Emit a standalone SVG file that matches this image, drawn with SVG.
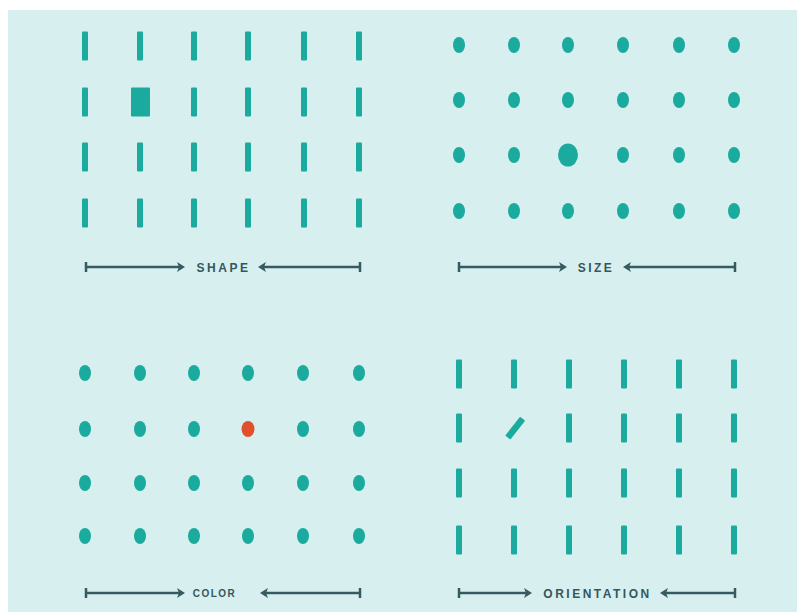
<svg xmlns="http://www.w3.org/2000/svg" width="797" height="612" viewBox="0 0 797 612">
<style>
.bg{fill:#d8eff0}
.bar{fill:#1aab9e}
.dot{fill:#1aab9e}
.red{fill:#e0512b}
.ax{stroke:#355b5f;stroke-width:2.5;fill:none}
.hd{fill:#355b5f}
.lbl{font-family:"Liberation Sans",Arial,sans-serif;font-weight:bold;font-size:12px;letter-spacing:2.5px;fill:#34575b;text-anchor:middle}
.sm{font-size:10px;letter-spacing:1.5px}
</style>
<defs>
<rect id="b" class="bar" x="-3" y="-14.5" width="6" height="29" rx="1"/>
<ellipse id="d" class="dot" cx="0" cy="0" rx="6" ry="8"/>
<path id="hr" class="hd" d="M-7,-5 L1,0 L-7,5 L-5,0 Z"/>
<path id="hl" class="hd" d="M7,-5 L-1,0 L7,5 L5,0 Z"/>
</defs>
<rect x="0" y="0" width="797" height="612" fill="#ffffff"/>
<rect class="bg" x="8" y="10" width="789" height="602"/>

<g id="shape">
<g id="shape-grid">
<use href="#b" x="85" y="46"/><use href="#b" x="140" y="46"/><use href="#b" x="194" y="46"/><use href="#b" x="248" y="46"/><use href="#b" x="304" y="46"/><use href="#b" x="359" y="46"/>
<use href="#b" x="85" y="102"/><rect class="bar" x="131" y="87.5" width="19" height="29" rx="1"/><use href="#b" x="194" y="102"/><use href="#b" x="248" y="102"/><use href="#b" x="304" y="102"/><use href="#b" x="359" y="102"/>
<use href="#b" x="85" y="157"/><use href="#b" x="140" y="157"/><use href="#b" x="194" y="157"/><use href="#b" x="248" y="157"/><use href="#b" x="304" y="157"/><use href="#b" x="359" y="157"/>
<use href="#b" x="85" y="213"/><use href="#b" x="140" y="213"/><use href="#b" x="194" y="213"/><use href="#b" x="248" y="213"/><use href="#b" x="304" y="213"/><use href="#b" x="359" y="213"/>
</g>
<text class="lbl" x="223.5" y="271.5">SHAPE</text>
</g>

<g id="size">
<g id="size-grid">
<use href="#d" x="459" y="45"/><use href="#d" x="514" y="45"/><use href="#d" x="568" y="45"/><use href="#d" x="623" y="45"/><use href="#d" x="679" y="45"/><use href="#d" x="734" y="45"/>
<use href="#d" x="459" y="100"/><use href="#d" x="514" y="100"/><use href="#d" x="568" y="100"/><use href="#d" x="623" y="100"/><use href="#d" x="679" y="100"/><use href="#d" x="734" y="100"/>
<use href="#d" x="459" y="155"/><use href="#d" x="514" y="155"/><ellipse class="dot" cx="568" cy="155" rx="10" ry="11.5"/><use href="#d" x="623" y="155"/><use href="#d" x="679" y="155"/><use href="#d" x="734" y="155"/>
<use href="#d" x="459" y="211"/><use href="#d" x="514" y="211"/><use href="#d" x="568" y="211"/><use href="#d" x="623" y="211"/><use href="#d" x="679" y="211"/><use href="#d" x="734" y="211"/>
</g>
<text class="lbl" x="596" y="271.5">SIZE</text>
</g>

<g id="color">
<g id="color-grid">
<use href="#d" x="85" y="373"/><use href="#d" x="140" y="373"/><use href="#d" x="194" y="373"/><use href="#d" x="248" y="373"/><use href="#d" x="303" y="373"/><use href="#d" x="359" y="373"/>
<use href="#d" x="85" y="429"/><use href="#d" x="140" y="429"/><use href="#d" x="194" y="429"/><ellipse class="red" cx="248" cy="429" rx="6.5" ry="8"/><use href="#d" x="303" y="429"/><use href="#d" x="359" y="429"/>
<use href="#d" x="85" y="483"/><use href="#d" x="140" y="483"/><use href="#d" x="194" y="483"/><use href="#d" x="248" y="483"/><use href="#d" x="303" y="483"/><use href="#d" x="359" y="483"/>
<use href="#d" x="85" y="536"/><use href="#d" x="140" y="536"/><use href="#d" x="194" y="536"/><use href="#d" x="248" y="536"/><use href="#d" x="303" y="536"/><use href="#d" x="359" y="536"/>
</g>
<text class="lbl sm" x="214.5" y="596.5">COLOR</text>
</g>

<g id="orientation">
<g id="orientation-grid">
<use href="#b" x="459" y="374"/><use href="#b" x="514" y="374"/><use href="#b" x="569" y="374"/><use href="#b" x="624" y="374"/><use href="#b" x="679" y="374"/><use href="#b" x="734" y="374"/>
<use href="#b" x="459" y="428"/><rect class="bar" x="-3" y="-12" width="6.5" height="24" rx="1" transform="translate(515,428) rotate(38)"/><use href="#b" x="569" y="428"/><use href="#b" x="624" y="428"/><use href="#b" x="679" y="428"/><use href="#b" x="734" y="428"/>
<use href="#b" x="459" y="483"/><use href="#b" x="514" y="483"/><use href="#b" x="569" y="483"/><use href="#b" x="624" y="483"/><use href="#b" x="679" y="483"/><use href="#b" x="734" y="483"/>
<use href="#b" x="459" y="540"/><use href="#b" x="514" y="540"/><use href="#b" x="569" y="540"/><use href="#b" x="624" y="540"/><use href="#b" x="679" y="540"/><use href="#b" x="734" y="540"/>
</g>
<text class="lbl" x="597.5" y="597.5">ORIENTATION</text>
</g>

<g id="connectors">
<path class="ax" d="M86,262V272M86,267H180M263,267H360M360,262V272"/>
<use href="#hr" x="184" y="267"/><use href="#hl" x="259" y="267"/>
<path class="ax" d="M459,262V272M459,267H562M628,267H735M735,262V272"/>
<use href="#hr" x="566" y="267"/><use href="#hl" x="624" y="267"/>
<path class="ax" d="M86,588V598M86,593H180M265,593H360M360,588V598"/>
<use href="#hr" x="184" y="593"/><use href="#hl" x="261" y="593"/>
<path class="ax" d="M459,588V598M459,593H527M665,593H735M735,588V598"/>
<use href="#hr" x="531" y="593"/><use href="#hl" x="661" y="593"/>
</g>
</svg>
